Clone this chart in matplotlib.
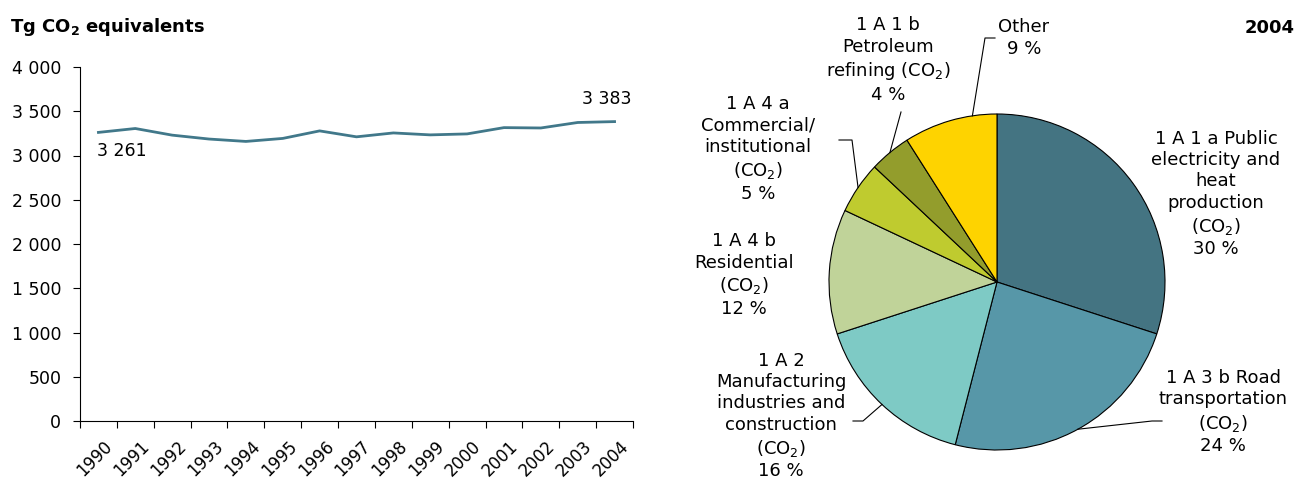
import numpy as np
import matplotlib
matplotlib.use("Agg")
from matplotlib import pyplot as plt
from matplotlib.lines import Line2D
from matplotlib.ticker import FixedLocator, FuncFormatter
from matplotlib.transforms import ScaledTranslation

plt.rcParams['font.family'] = ['DejaVu Sans']
plt.rcParams['mathtext.default'] = 'regular'
plt.rcParams['mathtext.fontset'] = 'dejavusans'

# line chart data
years = ['1990', '1991', '1992', '1993', '1994', '1995', '1996', '1997',
         '1998', '1999', '2000', '2001', '2002', '2003', '2004']
emissions = [3261, 3305, 3230, 3186, 3159, 3193, 3278, 3211,
             3255, 3233, 3244, 3315, 3311, 3373, 3383]

# pie data (2004), clockwise from 12 o'clock
sectors = ['1 A 1 a Public\nelectricity and\nheat\nproduction\n(CO$_2$)\n30 %',
           '1 A 3 b Road\ntransportation\n(CO$_2$)\n24 %',
           '1 A 2\nManufacturing\nindustries and\nconstruction\n(CO$_2$)\n16 %',
           '1 A 4 b\nResidential\n(CO$_2$)\n12 %',
           '1 A 4 a\nCommercial/\ninstitutional\n(CO$_2$)\n5 %',
           '1 A 1 b\nPetroleum\nrefining (CO$_2$)\n4 %',
           'Other\n9 %']
shares = [30, 24, 16, 12, 5, 4, 9]
colors = ['#447482', '#5797a8', '#7ecac5', '#c0d399', '#bfcb2f', '#939d2c', '#fed300']

W, H = 1298, 480
fig = plt.figure(figsize=(W / 100, H / 100), dpi=100)

def px(x, y):
    return x / W, 1 - y / H

# ---------------- line chart ----------------
ax = fig.add_axes([80 / W, 1 - 421 / H, 553 / W, 354 / H])
xs = np.arange(len(years))
ax.plot(xs, emissions, color='#41788a', lw=2.0, solid_joinstyle='round')
ax.set_xlim(-0.5, len(years) - 0.5)
ax.set_ylim(0, 4000)
ax.set_yticks(range(0, 4001, 500))
ax.yaxis.set_major_formatter(FuncFormatter(lambda v, p: f'{int(v):,}'.replace(',', ' ')))
ax.xaxis.set_major_locator(FixedLocator(np.arange(-0.5, len(years), 1.0)))
ax.xaxis.set_major_formatter(FuncFormatter(lambda v, p: ''))
ax.xaxis.set_minor_locator(FixedLocator(xs))
ax.set_xticklabels(years, minor=True, rotation=45, ha='right', rotation_mode='anchor')
ax.tick_params(axis='x', which='minor', length=0, pad=12, labelsize=12)
ax.tick_params(axis='x', which='major', length=5, direction='out', width=0.8)
ax.tick_params(axis='y', length=5, direction='out', width=0.8, labelsize=12.5, pad=8.5)
for lab in ax.get_xticklabels(minor=True):
    lab.set_transform(lab.get_transform() + ScaledTranslation(0.05, 0, fig.dpi_scale_trans))
for s in ['top', 'right']:
    ax.spines[s].set_visible(False)
ax.annotate('3 261', (0, emissions[0]), xytext=(-1, -7), textcoords='offset points',
            ha='left', va='top', fontsize=12.5)
ax.annotate('3 383', (len(years) - 1, emissions[-1]), xytext=(12, 10), textcoords='offset points',
            ha='right', va='bottom', fontsize=12.5)
fig.text(*px(10, 32), r'Tg CO$_\mathbf{2}$ equivalents', fontsize=13, fontweight='bold',
         ha='left', va='baseline')

# ---------------- pie chart ----------------
cx, cy, r = 997, 282, 168
m = 1.1
pax = fig.add_axes([(cx - r * m) / W, 1 - (cy + r * m) / H, 2 * r * m / W, 2 * r * m / H])
wedges, _ = pax.pie(shares, colors=colors, startangle=90, counterclock=False,
                    wedgeprops=dict(edgecolor='black', linewidth=0.8))
pax.set_xlim(-m, m)
pax.set_ylim(-m, m)

label_pos = [(1216, 194), (1223, 412), (781, 416), (744, 275), (758, 149), (888, 60), (1024, 38)]
for txt, (x, y) in zip(sectors, label_pos):
    fig.text(*px(x, y), txt, fontsize=13, ha='center', va='center', linespacing=1.25)

# leader lines: slice index -> (where along the slice edge, bend points in pixels)
leaders = {1: (0.5, [(1152, 421), (1162, 421)]),
           2: (0.5, [(863, 421), (853, 421)]),
           4: (0.5, [(852, 140), (839, 140)]),
           5: (0.5, [(901, 112)]),
           6: (0.26, [(985, 38), (995, 38)])}
inv = fig.transFigure.inverted()
for i, (f, pts) in leaders.items():
    w = wedges[i]
    ang = np.deg2rad(w.theta1 + f * (w.theta2 - w.theta1))
    edge = inv.transform(pax.transData.transform((np.cos(ang), np.sin(ang))))
    lx = [edge[0]] + [px(*p)[0] for p in pts]
    ly = [edge[1]] + [px(*p)[1] for p in pts]
    fig.add_artist(Line2D(lx, ly, color='black', lw=0.8, transform=fig.transFigure))

fig.text(*px(1295, 33), '2004', fontsize=13, fontweight='bold', ha='right', va='baseline')

fig.savefig('out.png', dpi=100)
